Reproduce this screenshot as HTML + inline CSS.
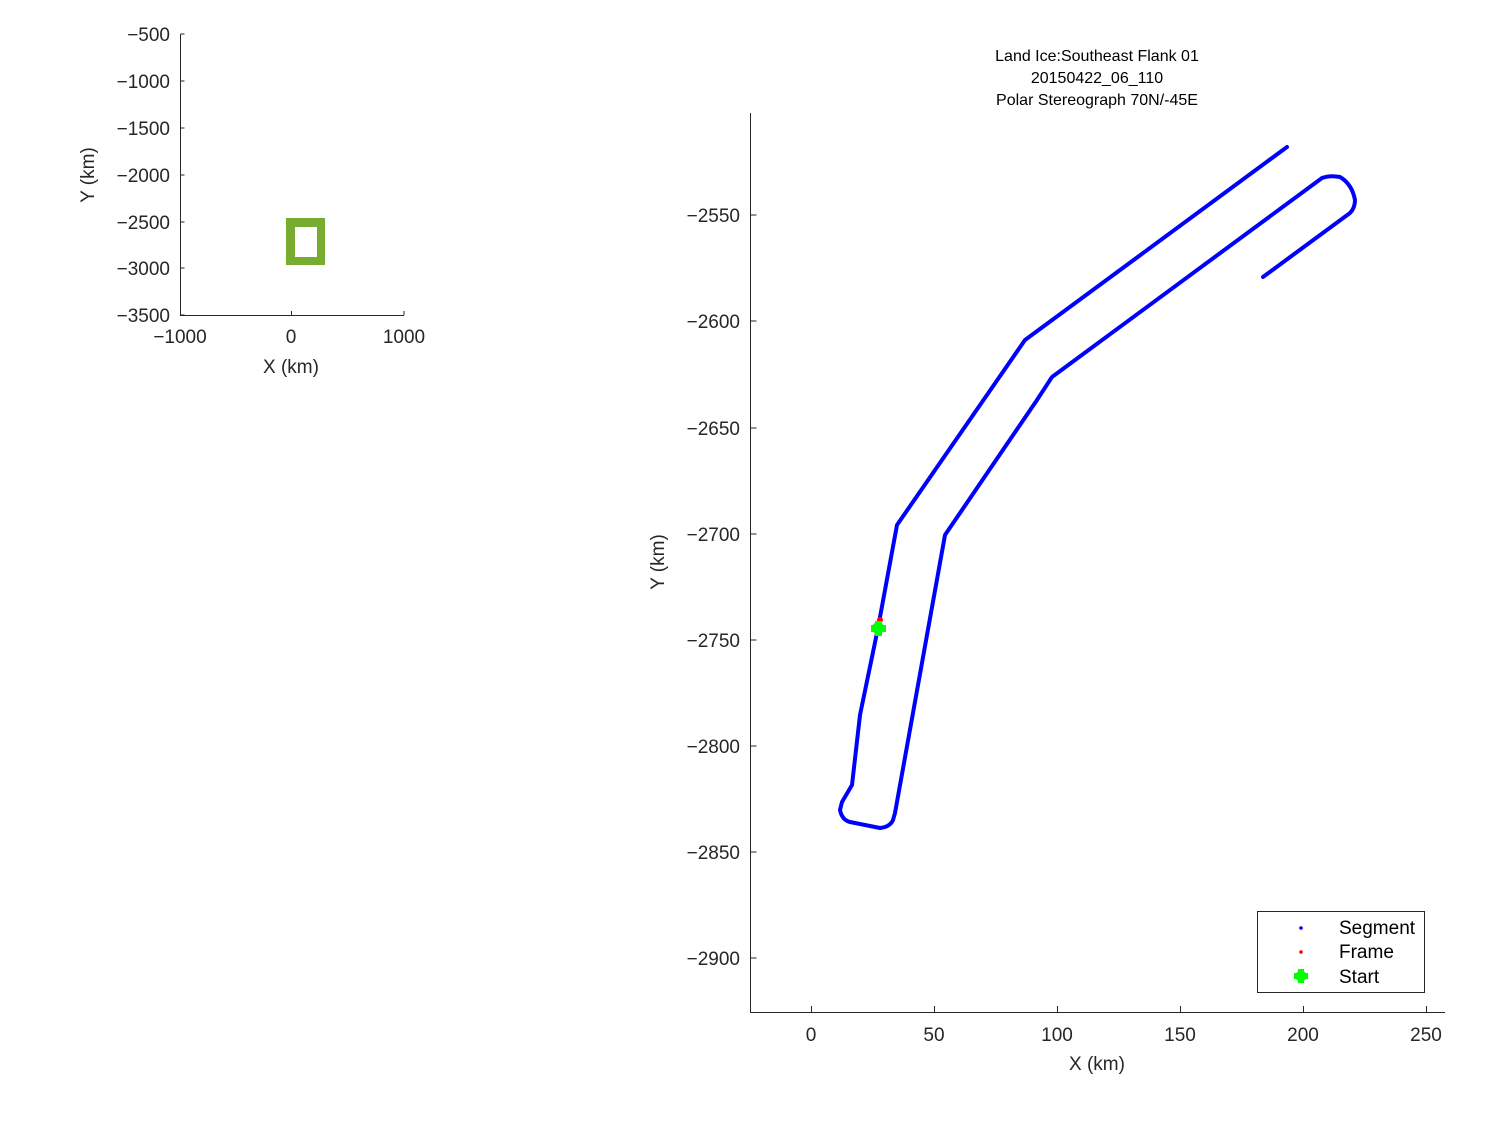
<!DOCTYPE html>
<html><head><style>
body{margin:0;background:#fff;}
svg text{font-family:"Liberation Sans","DejaVu Sans",sans-serif;}
</style></head><body>
<svg width="1500" height="1125" viewBox="0 0 1500 1125" xmlns="http://www.w3.org/2000/svg">
<rect width="1500" height="1125" fill="#fff"/>
<!-- small axes -->
<g stroke="#262626" stroke-width="1" fill="none">
<path d="M180.5 34 V315.5 H404"/>
<path d="M180.5 34h4M180.5 81h4M180.5 128h4M180.5 175h4M180.5 222h4M180.5 268h4M180.5 315h4"/>
<path d="M291.5 315v-4M404 315v-4"/>
</g>
<g font-size="19" fill="#262626" text-anchor="end">
<text x="170" y="41">−500</text><text x="170" y="88">−1000</text><text x="170" y="135">−1500</text>
<text x="170" y="182">−2000</text><text x="170" y="229">−2500</text><text x="170" y="275">−3000</text><text x="170" y="322">−3500</text>
</g>
<g font-size="19" fill="#262626" text-anchor="middle">
<text x="180" y="343">−1000</text><text x="291" y="343">0</text><text x="404" y="343">1000</text>
<text x="291" y="373">X (km)</text>
</g>
<text font-size="19" fill="#262626" text-anchor="middle" transform="translate(94,175) rotate(-90)">Y (km)</text>
<path d="M286 218H325V265H286Z M295 227V257H317V227Z" fill="#77ac30" fill-rule="evenodd"/>
<!-- main axes -->
<g stroke="#262626" stroke-width="1" fill="none">
<path d="M750.5 113 V1012.5 H1445"/>
<path d="M750.5 215h6M750.5 321h6M750.5 428h6M750.5 534h6M750.5 640h6M750.5 746h6M750.5 852h6M750.5 958h6"/>
<path d="M811.5 1012v-6M934.5 1012v-6M1057.5 1012v-6M1180.5 1012v-6M1303.5 1012v-6M1426.5 1012v-6"/>
</g>
<g font-size="19" fill="#262626" text-anchor="end">
<text x="740" y="222">−2550</text><text x="740" y="328">−2600</text><text x="740" y="435">−2650</text>
<text x="740" y="541">−2700</text><text x="740" y="647">−2750</text><text x="740" y="753">−2800</text>
<text x="740" y="859">−2850</text><text x="740" y="965">−2900</text>
</g>
<g font-size="19" fill="#262626" text-anchor="middle">
<text x="811" y="1041">0</text><text x="934" y="1041">50</text><text x="1057" y="1041">100</text>
<text x="1180" y="1041">150</text><text x="1303" y="1041">200</text><text x="1426" y="1041">250</text>
<text x="1097" y="1070">X (km)</text>
</g>
<text font-size="19" fill="#262626" text-anchor="middle" transform="translate(664,562) rotate(-90)">Y (km)</text>
<g font-size="16" fill="#000" text-anchor="middle">
<text x="1097" y="61">Land Ice:Southeast Flank 01</text>
<text x="1097" y="83">20150422_06_110</text>
<text x="1097" y="105">Polar Stereograph 70N/-45E</text>
</g>
<path d="M1287 147 L1025 340 L897 525 L878 628 L860 715 L852 785 L842 802 L840 810 Q842 820 850 822 L880 828 Q890 827 893 820 L895 813 L945 535 L1037 400 L1052 377 L1322 178 Q1330 175 1340 177 Q1352 184 1355 200 Q1355 208 1350 213 L1263 277" fill="none" stroke="#0000ff" stroke-width="4" stroke-linejoin="round" stroke-linecap="round"/>
<circle cx="880" cy="620" r="3" fill="#ff0000"/>
<g fill="#00ff00"><circle cx="878" cy="628" r="6"/><rect x="871" y="625" width="15" height="7"/><rect x="875" y="621" width="7" height="15"/></g>
<!-- legend -->
<rect x="1257.5" y="911.5" width="167" height="81" fill="#fff" stroke="#262626"/>
<circle cx="1301" cy="928" r="1.8" fill="#0000ff"/>
<circle cx="1301" cy="952" r="1.8" fill="#ff0000"/>
<g fill="#00ff00"><circle cx="1301" cy="976" r="5.5"/><rect x="1294" y="973" width="14" height="6"/><rect x="1298" y="969" width="6" height="14"/></g>
<g font-size="19" fill="#000">
<text x="1339" y="934">Segment</text><text x="1339" y="958">Frame</text><text x="1339" y="983">Start</text>
</g>
</svg>
</body></html>
